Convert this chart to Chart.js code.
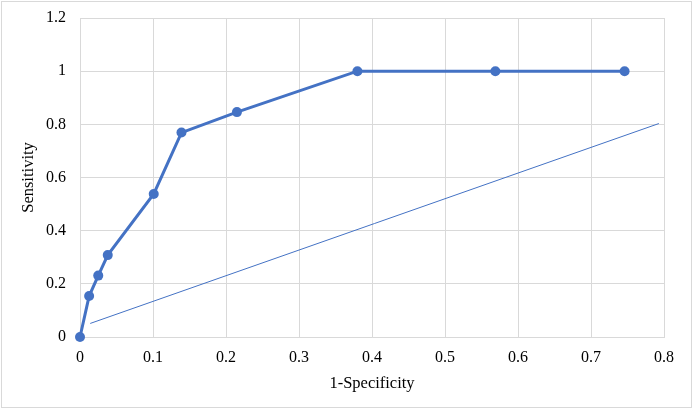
<!DOCTYPE html>
<html>
<head>
<meta charset="utf-8">
<script src="https://cdn.jsdelivr.net/npm/chart.js@4/dist/chart.umd.min.js"></script>
<style>
  body { margin: 0; background: #fff; }
  #wrap { position: relative; width: 693px; height: 410px; }
  #frame { position: absolute; left: 1px; top: 1px; width: 691px; height: 407px; box-sizing: border-box; border: 1px solid #d9d9d9; pointer-events: none; }
  canvas { position: absolute; left: 0; top: 0; }
</style>
</head>
<body>
<div id="wrap">
  <canvas id="myChart" width="693" height="410"></canvas>
  <div id="frame"></div>
</div>
<script>
// ROC curve points (1-specificity, sensitivity)
const fpr = [0, 0.0125, 0.025, 0.038, 0.101, 0.139, 0.215, 0.38, 0.569, 0.746];
const tpr = [0, 0.154, 0.231, 0.308, 0.538, 0.769, 0.846, 1, 1, 1];
// thin reference line
const refX = [0.014, 0.793];
const refY = [0.051, 0.803];

const blue = '#4472C4';
const gridColor = '#d9d9d9';
const fontFamily = '"Liberation Serif", "Times New Roman", serif';

function toPoints(xs, ys) {
    return xs.map((x, i) => ({ x: x, y: ys[i] }));
}

const elem = document.getElementById('myChart');
const chart = new Chart(elem, {
    type: 'scatter',
    data: {
        datasets: [{
            label: 'ROC',
            data: toPoints(fpr, tpr),
            showLine: true,
            borderColor: blue,
            backgroundColor: blue,
            borderWidth: 3,
            pointRadius: 5,
            pointBorderWidth: 0,
            lineTension: 0,
            clip: false,
            order: 1
        }, {
            label: 'ref',
            data: toPoints(refX, refY),
            showLine: true,
            borderColor: blue,
            borderWidth: 1,
            pointRadius: 0,
            order: 2
        }]
    },
    options: {
        responsive: false,
        animation: false,
        layout: { padding: { top: 18, right: 29, left: 0, bottom: 0 } },
        plugins: {
            legend: { display: false },
            tooltip: { enabled: false }
        },
        scales: {
            x: {
                type: 'linear',
                min: 0,
                max: 0.8,
                // fixed axis size, no extra label padding
                afterFit: (s) => { s.height = 73; s.paddingLeft = 0; s.paddingRight = 0; },
                grid: { color: gridColor, drawTicks: false },
                border: { color: gridColor },
                ticks: {
                    stepSize: 0.1,
                    padding: 11,
                    color: '#000',
                    font: { family: fontFamily, size: 16 },
                    callback: (v) => String(Number(v.toFixed(1)))
                },
                title: {
                    display: true,
                    text: '1-Specificity',
                    color: '#000',
                    font: { family: fontFamily, size: 16.5 },
                    padding: { top: 0, bottom: 16 }
                }
            },
            y: {
                type: 'linear',
                min: 0,
                max: 1.2,
                afterFit: (s) => { s.width = 80; s.paddingTop = 0; s.paddingBottom = 0; },
                grid: { color: gridColor, drawTicks: false },
                border: { color: gridColor },
                ticks: {
                    stepSize: 0.2,
                    padding: 14,
                    color: '#000',
                    font: { family: fontFamily, size: 16 },
                    callback: (v) => String(Number(v.toFixed(1)))
                },
                title: {
                    display: true,
                    text: 'Sensitivity',
                    color: '#000',
                    font: { family: fontFamily, size: 16.5 },
                    padding: { top: 19, bottom: 0 }
                }
            }
        }
    }
});
</script>
</body>
</html>
